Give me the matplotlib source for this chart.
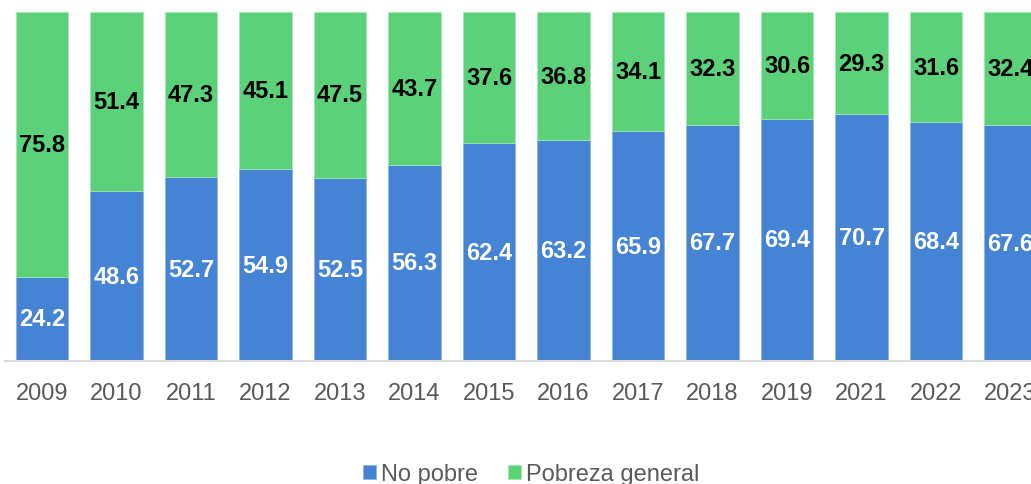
import matplotlib.pyplot as plt
import numpy as np

plt.rcParams['font.family'] = ['Liberation Sans', 'DejaVu Sans']

# datos: porcentaje de población por año
years = ["2009", "2010", "2011", "2012", "2013", "2014", "2015",
         "2016", "2017", "2018", "2019", "2021", "2022", "2023"]
no_pobre = [24.2, 48.6, 52.7, 54.9, 52.5, 56.3, 62.4,
            63.2, 65.9, 67.7, 69.4, 70.7, 68.4, 67.6]
pobreza = [75.8, 51.4, 47.3, 45.1, 47.5, 43.7, 37.6,
           36.8, 34.1, 32.3, 30.6, 29.3, 31.6, 32.4]

blue = "#4583d4"
green = "#5bd17a"

W, H = 1031, 485
fig = plt.figure(figsize=(W / 100, H / 100), dpi=100)

# ejes en píxeles: barras de 13 a 362 en vertical
ax_left = 5
ax = fig.add_axes([ax_left / W, (H - 362) / H, 1 - ax_left / W, 349 / H])

step = 74.5
x0 = 42
x = np.arange(len(years))
ax.set_xlim((ax_left - x0) / step, (W - x0) / step)
ax.set_ylim(0, 100)

b1 = ax.bar(x, no_pobre, width=0.70, color=blue, edgecolor="#8fb3e6",
            linewidth=0.6, label="No pobre")
b2 = ax.bar(x, pobreza, width=0.70, bottom=no_pobre, color=green,
            edgecolor="#a3e6b4", linewidth=0.6, label="Pobreza general")

for xi, a, b in zip(x, no_pobre, pobreza):
    ax.text(xi, a / 2, f"{a:.1f}", ha="center", va="center",
            color="white", fontsize=17, fontweight="bold")
    ax.text(xi, a + b / 2, f"{b:.1f}", ha="center", va="center",
            color="black", fontsize=17, fontweight="bold")

ax.set_xticks(x)
ax.set_xticklabels(years, fontsize=17, color="#595959")
ax.tick_params(axis="x", length=0, pad=15)
ax.set_yticks([])
for s in ["top", "right", "left"]:
    ax.spines[s].set_visible(False)
ax.spines["bottom"].set_color("#d9d9d9")
ax.spines["bottom"].set_linewidth(1.5)

fig.legend(handles=[b1, b2], loc="center", bbox_to_anchor=(0.515, (H - 475) / H),
           ncol=2, frameon=False, fontsize=17, labelcolor="#595959",
           handlelength=0.55, handleheight=0.55, handletextpad=0.22,
           columnspacing=1.27)

fig.savefig("out.png", dpi=100)
